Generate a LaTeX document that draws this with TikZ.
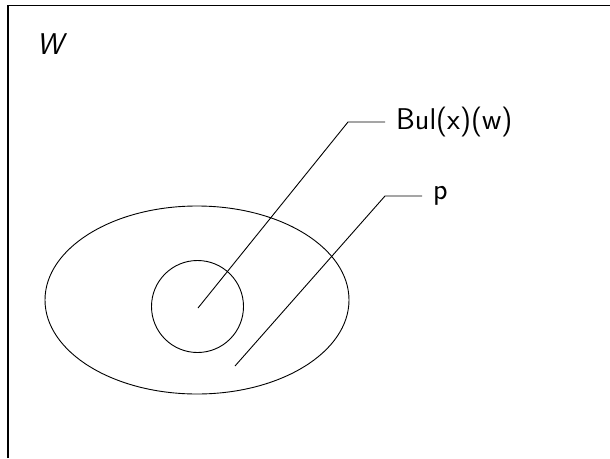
\documentclass[tikz,border=0pt]{standalone}
\usepackage{tikz}
\usetikzlibrary{shapes.geometric, positioning, calc}

\begin{document}
\begin{tikzpicture}[
                x=1pt, y=-1pt,
                lbl/.style={font=\sffamily\fontsize{30}{34}\selectfont, inner sep=0pt},
                leader/.style={line width=0.9pt, black},
                region/.style={line width=0.9pt, black}
            ]
                \useasboundingbox (0,0) rectangle (610,458);
                % frame of W
                \draw[line width=1.2pt] (8,458) -- (8,5.5) -- (610,5.5);
                \node[lbl, font=\sffamily\itshape\fontsize{30}{34}\selectfont] (wlab) at (50,44) {W};
                % regions
                \node[region, draw, ellipse, minimum width=304pt, minimum height=188pt, inner sep=0pt] (pset) at (197,300) {};
                \node[region, draw, circle, minimum size=92pt, inner sep=0pt] (bulset) at (197.5,306.5) {};
                % labels
                \node[lbl, anchor=west, inner xsep=11pt] (bul) at (385,122) {Bul(x)(w)};
                \node[lbl, anchor=west, inner xsep=11pt] (plab) at (422,196) {p};
                \coordinate (bulin) at (198,308);
                \coordinate (bulbend) at (348,122);
                \coordinate (pin) at (235,366);
                \coordinate (pbend) at (385,196);
                \draw[leader] (bulin) -- (bulbend) -- (bul.west);
                \draw[leader] (pin) -- (pbend) -- (plab.west |- pbend);
            \end{tikzpicture}
\end{document}
